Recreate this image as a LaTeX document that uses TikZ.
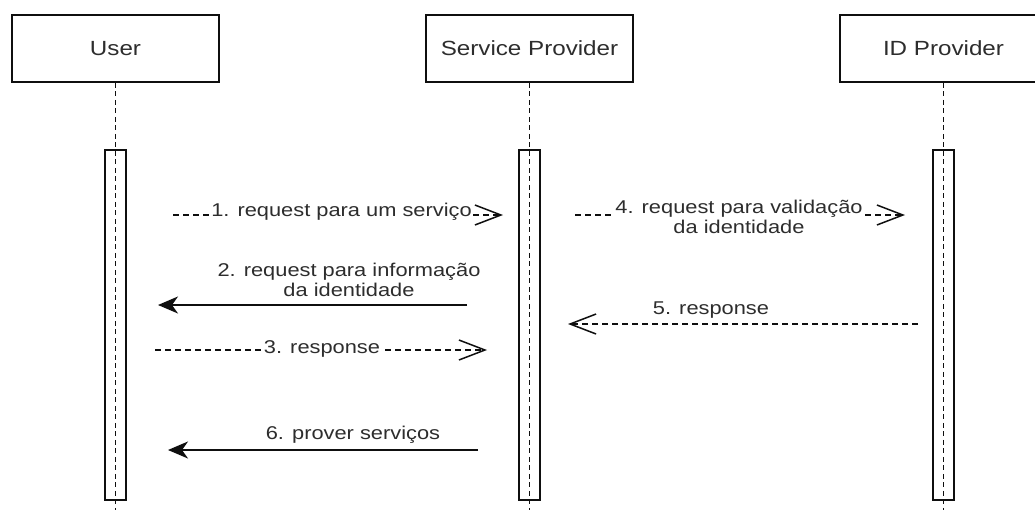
\documentclass[tikz,border=0pt]{standalone}
\usepackage{fontspec}
\setmainfont{Liberation Sans}[FakeStretch=1.18]
\usetikzlibrary{arrows.meta}
\definecolor{ink}{RGB}{15,15,15}
\definecolor{txt}{RGB}{45,45,45}

\begin{document}
\begin{tikzpicture}[x=1pt,y=-1pt,
  actor/.style={draw=ink, line width=1.8pt, fill=white, minimum width=207pt,
    minimum height=67pt, inner sep=0pt, font=\fontsize{20.5}{24}\selectfont, text=txt},
  lifeline/.style={draw=ink, line width=1.8pt, dash pattern=on 5pt off 3.5pt},
  activation/.style={draw=ink, line width=1.8pt, fill=white, minimum width=21pt,
    minimum height=350pt, inner sep=0pt},
  msgsync/.style={draw=ink, line width=1.7pt,
    -{Stealth[length=20pt,width=17pt,inset=6pt]}},
  msgreply/.style={draw=ink, line width=1.5pt, dash pattern=on 6pt off 4pt,
    -{Straight Barb[length=26pt,width=20pt,line width=1.5pt]}},
  msglabel/.style={text=txt, font=\fontsize{18.5}{20}\selectfont, align=center,
    inner sep=1pt, fill=white}
]
\useasboundingbox (0,0) rectangle (1035,512);
\clip (0,0) rectangle (1035,512);
\fill[white] (0,0) rectangle (1035,512);

% participants
\node[actor] (user) at (115.5,48.5) {User};
\node[actor] (sp)   at (529.5,48.5) {Service Provider};
\node[actor] (idp)  at (943.5,48.5) {ID Provider};

% activation bars
\node[activation] (userbar) at (115.5,325) {};
\node[activation] (spbar)   at (529.5,325) {};
\node[activation] (idpbar)  at (943.5,325) {};

% lifelines
\coordinate (userend) at (115.5,510);
\coordinate (spend)   at (529.5,510);
\coordinate (idpend)  at (943.5,510);
\draw[lifeline] (user.south) -- (userend);
\draw[lifeline] (sp.south)   -- (spend);
\draw[lifeline] (idp.south)  -- (idpend);

% message end points
\coordinate (m1a) at (173,215);  \coordinate (m1b) at (503,215);
\coordinate (m2a) at (467,305);  \coordinate (m2b) at (158,305);
\coordinate (m3a) at (155,350);  \coordinate (m3b) at (487,350);
\coordinate (m4a) at (575,215);  \coordinate (m4b) at (905,215);
\coordinate (m5a) at (918,324);  \coordinate (m5b) at (568,324);
\coordinate (m6a) at (478,450);  \coordinate (m6b) at (168,450);

% messages
\draw[msgreply] (m1a) -- (m1b);
\node[msglabel] (l1) at (341.5,212) {1. request para um serviço};

\draw[msgsync] (m2a) -- (m2b);
\node[msglabel, fill=none] (l2) at (349,280) {2. request para informação\\da identidade};

\draw[msgreply] (m3a) -- (m3b);
\node[msglabel] (l3) at (322,349) {3. response};

\draw[msgreply] (m4a) -- (m4b);
\node[msglabel] (l4) at (739,217) {4. request para validação\\da identidade};

\draw[msgreply] (m5a) -- (m5b);
\node[msglabel, fill=none] (l5) at (711,310) {5. response};

\draw[msgsync] (m6a) -- (m6b);
\node[msglabel, fill=none] (l6) at (353,435) {6. prover serviços};
\end{tikzpicture}
\end{document}
